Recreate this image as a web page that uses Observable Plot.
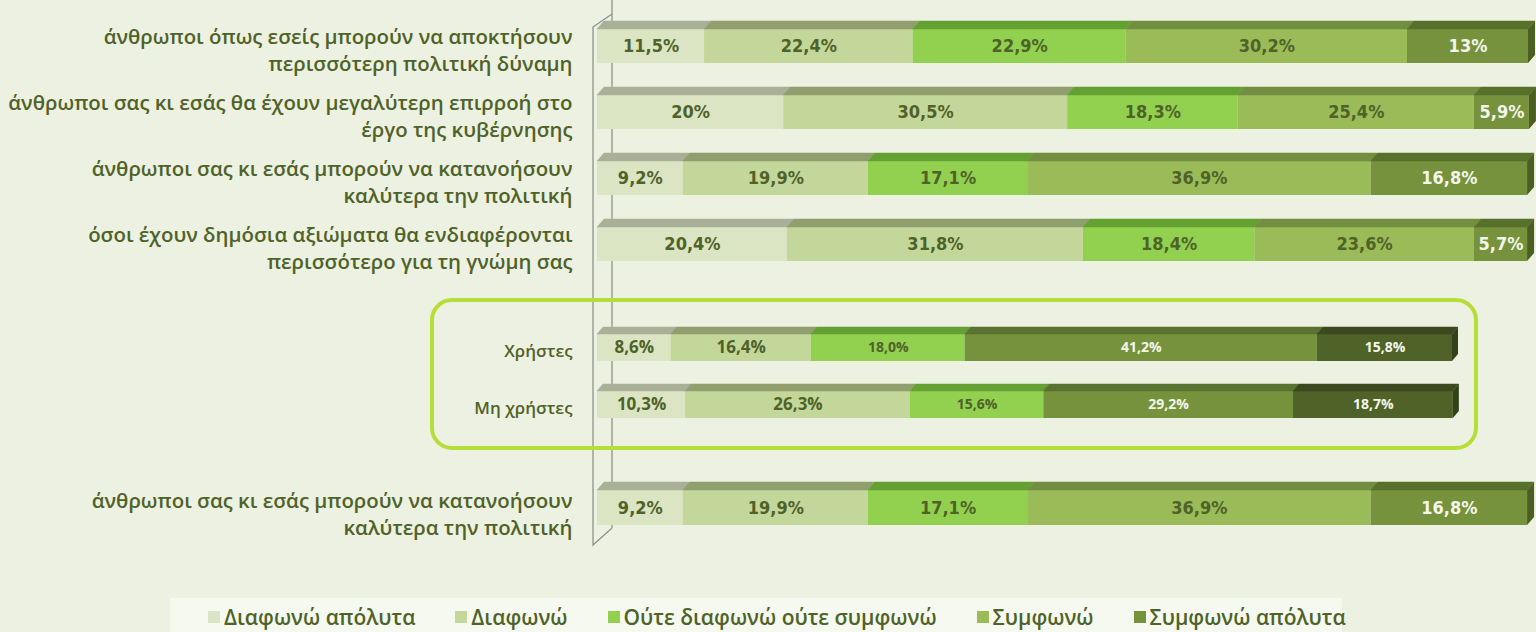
<!DOCTYPE html>
<html><head><meta charset="utf-8">
<script src="https://cdn.jsdelivr.net/npm/d3@7"></script>
<script src="https://cdn.jsdelivr.net/npm/@observablehq/plot@0.6"></script>
<style>
html,body{margin:0;padding:0;background:#edf1e1;}
#wrap{position:relative;width:1536px;height:632px;overflow:hidden;background:#edf1e1;}
.part{position:absolute;left:0;width:1536px;}
.part svg{display:block;}
#box{position:absolute;left:430px;top:298px;width:1048px;height:152px;box-sizing:border-box;border:4px solid #b5df38;border-radius:22px;pointer-events:none;}
#legendStrip{position:absolute;left:170px;top:598px;width:1172px;height:34px;background:#f6f9ef;}
#legend{position:absolute;left:208px;top:600px;white-space:nowrap;}
#legend .lg-swatch{margin-right:40px !important;}
#legend .lg-swatch > svg{margin-right:4px !important;}
</style></head><body><div id="wrap"></div>
<script>
// ---- data ----
const categories = ["Διαφωνώ απόλυτα", "Διαφωνώ", "Ούτε διαφωνώ ούτε συμφωνώ", "Συμφωνώ", "Συμφωνώ απόλυτα"];
const questions = [
  "άνθρωποι όπως εσείς μπορούν να αποκτήσουν\nπερισσότερη πολιτική δύναμη",
  "άνθρωποι σας κι εσάς θα έχουν μεγαλύτερη επιρροή στο\nέργο της κυβέρνησης",
  "άνθρωποι σας κι εσάς μπορούν να κατανοήσουν\nκαλύτερα την πολιτική",
  "όσοι έχουν δημόσια αξιώματα θα ενδιαφέρονται\nπερισσότερο για τη γνώμη σας"
];
const q1Values = [11.5, 22.4, 22.9, 30.2, 13];
const q2Values = [20, 30.5, 18.3, 25.4, 5.9];
const q3Values = [9.2, 19.9, 17.1, 36.9, 16.8];
const q4Values = [20.4, 31.8, 18.4, 23.6, 5.7];
const groupRows = ["Χρήστες", "Μη χρήστες"];
const usersValues = [8.6, 16.4, 18.0, 41.2, 15.8];
const nonUsersValues = [10.3, 26.3, 15.6, 29.2, 18.7];
const bottomQuestion = ["άνθρωποι σας κι εσάς μπορούν να κατανοήσουν\nκαλύτερα την πολιτική"];
const bottomValues = [9.2, 19.9, 17.1, 36.9, 16.8];

// ---- styles ----
const topColors = ["#dbe5c4", "#c4d79b", "#92d050", "#9bbb59", "#76923c"];
const topFaceColors = ["#a9b097", "#909f6e", "#64a032", "#738e40", "#57702b"];
const hiColors = ["#dbe5c4", "#c4d79b", "#92d050", "#76923c", "#4f6228"];
const hiFaceColors = ["#a9b097", "#909f6e", "#64a032", "#5b7330", "#3b4a1e"];
const dark = "#4f6228", light = "#f3f6ea";
const labelFont = "'Open Sans', 'Noto Sans', sans-serif";
const valueFont = "'Liberation Sans Narrow', 'DejaVu Sans Condensed', 'Liberation Sans', sans-serif";

const fmtTop = v => String(v).replace(".", ",") + "%";
const fmtHi = v => v.toFixed(1).replace(".", ",") + "%";

function build(rows, series, fmt) {
  const out = [];
  rows.forEach((row, i) => {
    let acc = 0;
    series[i].forEach((v, j) => {
      out.push({row, cat: categories[j], j, value: v, x1: acc, x2: acc + v, mid: acc + v / 2, label: fmt(v)});
      acc += v;
    });
  });
  return out;
}
const dataA = build(questions, [q1Values, q2Values, q3Values, q4Values], fmtTop);
const dataB = build(groupRows, [usersValues, nonUsersValues], fmtHi);
const dataC = build(bottomQuestion, [bottomValues], fmtTop);

// 3D top faces + end side faces, positioned through the plot's scales
function faces(data, faceColors, sideColor, d, h) {
  return (index, scales) => {
    const sx = scales.x, sy = scales.y, bw = sy.bandwidth();
    const g = d3.create("svg:g");
    for (const r of data) {
      const y0 = sy(r.row), X1 = sx(r.x1), X2 = sx(r.x2);
      g.append("polygon")
        .attr("points", `${X1},${y0} ${X2},${y0} ${X2 + d},${y0 - h} ${X1 + d},${y0 - h}`)
        .attr("fill", faceColors[r.j]).attr("stroke", faceColors[r.j]).attr("stroke-width", 0.5);
      if (r.j === categories.length - 1) {
        g.append("polygon")
          .attr("points", `${X2},${y0} ${X2 + d},${y0 - h} ${X2 + d},${y0 + bw - h} ${X2},${y0 + bw}`)
          .attr("fill", sideColor);
      }
    }
    return g.node();
  };
}
// axis wall (two vertical edges of the 3D floor/wall)
function wall(kind, rows) {
  return (index, scales, values, dim) => {
    const x0 = scales.x(0), sy = scales.y, bw = sy.bandwidth(), H = dim.height;
    const g = d3.create("svg:g").attr("fill", "none").attr("stroke", "#8e938a").attr("stroke-width", 1.3);
    const xo = x0 - 4, xi = x0 + 15;
    if (kind === "top") {
      const t = sy(rows[0]) - 15;
      g.append("path").attr("d", `M${xo},${H}V${t + 13}L${xi},${t}`);
      g.append("path").attr("d", `M${xi},0V${H}`);
    } else if (kind === "mid") {
      g.append("path").attr("d", `M${xo},0V${H}`);
      g.append("path").attr("d", `M${xi},0V${H}`);
    } else {
      const b = sy(rows[rows.length - 1]) + bw + 3;
      g.append("path").attr("d", `M${xo},0V${b + 17}L${xi},${b}`);
      g.append("path").attr("d", `M${xi},0V${b}`);
    }
    return g.node();
  };
}

function makePlot({data, rows, colors, faceColors, sideColor, height, yRange, pi, po, right, kind, d, h, valueSize, valueFamily, lightFrom, labelSize, labelDy, smallFrom, smallSize}) {
  const marks = [
    wall(kind, rows),
    Plot.barX(data, {x1: "x1", x2: "x2", y: "row", fill: "cat"}),
    faces(data, faceColors, sideColor, d, h)
  ];
  const groups = [
    {f: r => r.j < lightFrom && r.j < smallFrom, fill: dark, size: valueSize},
    {f: r => r.j < lightFrom && r.j >= smallFrom, fill: dark, size: smallSize},
    {f: r => r.j >= lightFrom && r.j < smallFrom, fill: light, size: valueSize},
    {f: r => r.j >= lightFrom && r.j >= smallFrom, fill: light, size: smallSize}
  ];
  for (const gdef of groups) {
    const sub = data.filter(gdef.f);
    if (!sub.length) continue;
    marks.push(Plot.text(sub, {x: "mid", y: "row", text: "label", fill: gdef.fill, fontSize: gdef.size,
      fontWeight: "bold", fontFamily: valueFamily}));
  }
  marks.push(Plot.text(rows, {y: d => d, text: d => d, frameAnchor: "left", dx: -25, dy: labelDy,
    textAnchor: "end", fill: dark, fontSize: labelSize, fontWeight: 600, fontFamily: labelFont, lineHeight: 1.33}));
  return Plot.plot({
    width: 1536, height,
    marginLeft: 597, marginRight: right, marginTop: 0, marginBottom: 0,
    x: {domain: [0, 100], axis: null},
    y: {domain: rows, range: yRange, paddingInner: pi, paddingOuter: po, axis: null},
    color: {domain: categories, range: colors},
    style: {background: "transparent", overflow: "visible"},
    marks
  });
}

const wrap = document.getElementById("wrap");
function mount(node, top) {
  const div = document.createElement("div");
  div.className = "part"; div.style.top = top + "px";
  div.appendChild(node); wrap.appendChild(div);
}

mount(makePlot({data: dataA, rows: questions, colors: topColors, faceColors: topFaceColors, sideColor: "#4b5f24",
  height: 285, yRange: [15, 274], pi: 0.487, po: 0.2, right: 8, kind: "top", d: 7, h: 8,
  valueSize: 18, valueFamily: valueFont, lightFrom: 4, labelSize: 20.4, labelDy: 2, smallFrom: 9, smallSize: 18}), 0);

mount(makePlot({data: dataB, rows: groupRows, colors: hiColors, faceColors: hiFaceColors, sideColor: "#34421a",
  height: 170, yRange: [19.5, 162.5], pi: 0.534, po: 0.5, right: 84, kind: "mid", d: 6, h: 7,
  valueSize: 17, valueFamily: labelFont, lightFrom: 3, labelSize: 17, labelDy: 2, smallFrom: 2, smallSize: 14}), 285);

mount(makePlot({data: dataC, rows: bottomQuestion, colors: topColors, faceColors: topFaceColors, sideColor: "#4b5f24",
  height: 143, yRange: [35, 70], pi: 0, po: 0, right: 8, kind: "bottom", d: 7, h: 8,
  valueSize: 18, valueFamily: valueFont, lightFrom: 4, labelSize: 20.4, labelDy: 5, smallFrom: 9, smallSize: 18}), 455);

const box = document.createElement("div"); box.id = "box"; wrap.appendChild(box);
const strip = document.createElement("div"); strip.id = "legendStrip"; wrap.appendChild(strip);

const legend = Plot.legend({
  color: {type: "ordinal", domain: categories, range: topColors},
  legend: "swatches", swatchSize: 12, className: "lg",
  style: {fontFamily: labelFont, fontSize: "21px", fontWeight: 600, color: dark, background: "transparent", margin: 0}
});
const lg = document.createElement("div"); lg.id = "legend"; lg.appendChild(legend); wrap.appendChild(lg);
</script></body></html>
